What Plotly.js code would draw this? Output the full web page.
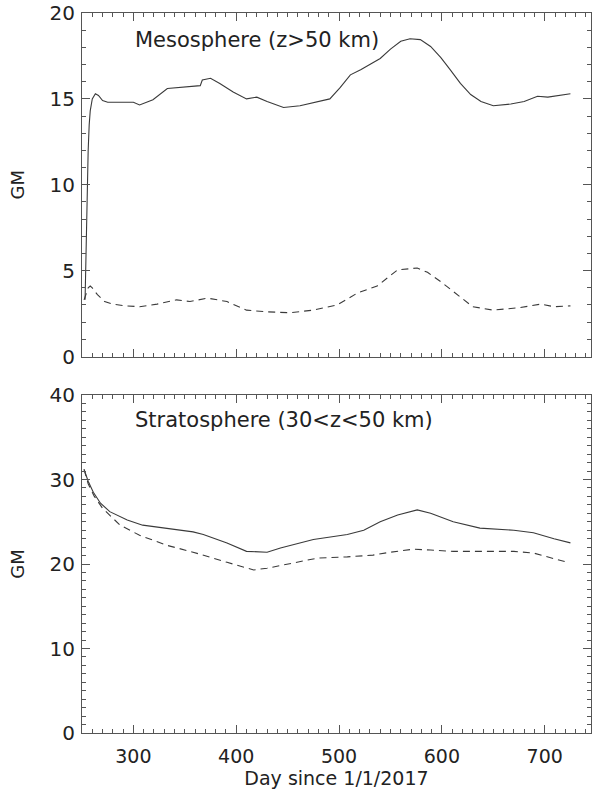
<!DOCTYPE html>
<html>
<head>
<meta charset="utf-8">
<script src="https://cdn.plot.ly/plotly-3.0.1.min.js"></script>
<style>html,body{margin:0;padding:0;background:#fff;}#chart{width:595px;height:792px;}</style>
</head>
<body>
<div id="chart"></div>
<script>
// Mesosphere (z>50 km)
const mesoSolidDay = [253,254,255,256,257,258,260,263,266,270,275,285,300,306,319,333,349,365,367,375,384,397,410,420,430,446,462,491,501,511,521,530,540,550,560,569,579,589,599,608,618,628,638,650,667,680,693,703,715,725];
const mesoSolidGM  = [3.3,6.5,9.5,12.0,13.5,14.3,15.0,15.3,15.2,14.9,14.8,14.8,14.8,14.65,14.95,15.6,15.7,15.77,16.1,16.2,15.9,15.4,15.0,15.1,14.85,14.5,14.6,15.0,15.65,16.4,16.7,17.0,17.35,17.9,18.35,18.5,18.45,18.05,17.4,16.7,15.9,15.25,14.85,14.6,14.7,14.85,15.15,15.1,15.2,15.3];
const mesoDashDay  = [252,254,256,258,260,265,272,280,292,306,323,342,355,372,391,410,430,452,475,498,518,537,557,576,586,599,615,630,650,676,696,709,725];
const mesoDashGM   = [3.3,3.7,4.0,4.1,4.0,3.6,3.2,3.05,2.95,2.9,3.05,3.3,3.2,3.4,3.2,2.7,2.6,2.55,2.7,3.0,3.7,4.1,5.05,5.15,4.9,4.35,3.6,2.9,2.7,2.85,3.05,2.9,2.95];
// Stratosphere (30<z<50 km)
const stratSolidDay = [252,256,261,268,277,294,309,333,358,368,391,410,430,443,450,462,475,508,524,540,557,576,589,611,637,670,689,709,725];
const stratSolidGM  = [31.2,29.8,28.5,27.2,26.2,25.2,24.6,24.25,23.8,23.5,22.5,21.5,21.4,21.9,22.1,22.5,22.9,23.5,24.0,25.0,25.8,26.4,26.0,25.0,24.25,24.0,23.7,23.0,22.5];
const stratDashDay  = [252,256,262,270,287,306,333,358,391,417,430,446,452,479,508,533,550,572,589,611,637,670,689,706,722];
const stratDashGM   = [31.2,29.5,28.0,26.6,24.6,23.4,22.2,21.4,20.2,19.3,19.5,19.9,20.1,20.7,20.85,21.05,21.4,21.75,21.65,21.5,21.5,21.5,21.3,20.7,20.2];

const xTickVals = [300,400,500,600,700];
const topYTicks = [0,5,10,15,20];
const botYTicks = [0,10,20,30,40];
const panelLabels = ["Mesosphere (z>50 km)", "Stratosphere (30<z<50 km)"];
const xTitle = "Day since 1/1/2017";
const yTitle = "GM";

const lineCol = '#3a3a3a';
const fontFam = 'DejaVu Sans, Liberation Sans, Arial, sans-serif';

const traces = [
  {x: mesoSolidDay, y: mesoSolidGM, xaxis:'x', yaxis:'y', mode:'lines', line:{color:lineCol, width:1.1}},
  {x: mesoDashDay, y: mesoDashGM, xaxis:'x', yaxis:'y', mode:'lines', line:{color:lineCol, width:1.1, dash:'7px,5px'}},
  {x: stratSolidDay, y: stratSolidGM, xaxis:'x2', yaxis:'y2', mode:'lines', line:{color:lineCol, width:1.1}},
  {x: stratDashDay, y: stratDashGM, xaxis:'x2', yaxis:'y2', mode:'lines', line:{color:lineCol, width:1.1, dash:'7px,5px'}}
];

const axCommon = {
  showline:true, linecolor:'#555', linewidth:1, mirror:'ticks',
  ticks:'inside', ticklen:8, tickcolor:'#555', tickwidth:1,
  showgrid:false, zeroline:false,
  tickfont:{family:fontFam, size:20, color:'#222'}
};

const xBase = Object.assign({}, axCommon, {
  range:[250,745], tickvals:xTickVals, ticktext:xTickVals.map(String),
  minor:{dtick:10, tick0:250, ticks:'inside', ticklen:4, tickcolor:'#555', showgrid:false}
});

const layout = {
  width:595, height:792,
  margin:{l:82, r:4, t:13, b:59},
  paper_bgcolor:'#fff', plot_bgcolor:'#fff',
  showlegend:false,
  xaxis: Object.assign({}, xBase, {anchor:'y', showticklabels:false}),
  xaxis2: Object.assign({}, xBase, {anchor:'y2', matches:'x',
    ticklabelstandoff:6, tickfont:{family:fontFam, size:19, color:'#222'},
    title:{text:xTitle, font:{family:fontFam, size:19, color:'#222'}, standoff:4}}),
  yaxis: Object.assign({}, axCommon, {domain:[0.5229,1], range:[0,20], tickvals:topYTicks,
    minor:{dtick:1, tick0:0, ticks:'inside', ticklen:4, tickcolor:'#555', showgrid:false},
    ticklabelstandoff:2,
    title:{text:yTitle, font:{family:fontFam, size:18, color:'#222'}, standoff:20}}),
  yaxis2: Object.assign({}, axCommon, {domain:[0,0.4694], range:[0,40], tickvals:botYTicks,
    minor:{dtick:1, tick0:0, ticks:'inside', ticklen:4, tickcolor:'#555', showgrid:false},
    ticklabelstandoff:2,
    title:{text:yTitle, font:{family:fontFam, size:18, color:'#222'}, standoff:20}}),
  annotations:[
    {text:panelLabels[0], xref:'x', yref:'y', x:300, y:18.45, xanchor:'left', yanchor:'middle', showarrow:false,
     font:{family:fontFam, size:21, color:'#222'}},
    {text:panelLabels[1], xref:'x2', yref:'y2', x:300, y:37.0, xanchor:'left', yanchor:'middle', showarrow:false,
     font:{family:fontFam, size:21, color:'#222'}}
  ]
};

Plotly.newPlot('chart', traces, layout, {staticPlot:true, displayModeBar:false});
</script>
</body>
</html>
